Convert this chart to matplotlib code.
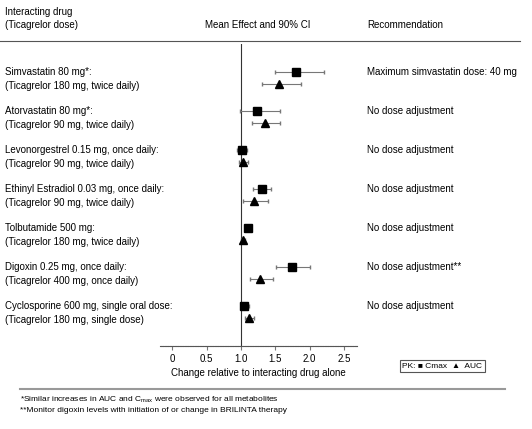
import matplotlib.pyplot as plt
import numpy as np

plt.rcParams['font.family'] = ['Liberation Sans', 'DejaVu Sans']

drugs = ['Simvastatin 80 mg*:', 'Atorvastatin 80 mg*:', 'Levonorgestrel 0.15 mg, once daily:',
         'Ethinyl Estradiol 0.03 mg, once daily:', 'Tolbutamide 500 mg:',
         'Digoxin 0.25 mg, once daily:', 'Cyclosporine 600 mg, single oral dose:']
doses = ['(Ticagrelor 180 mg, twice daily)', '(Ticagrelor 90 mg, twice daily)',
         '(Ticagrelor 90 mg, twice daily)', '(Ticagrelor 90 mg, twice daily)',
         '(Ticagrelor 180 mg, twice daily)', '(Ticagrelor 400 mg, once daily)',
         '(Ticagrelor 180 mg, single dose)']
recs = ['Maximum simvastatin dose: 40 mg', 'No dose adjustment', 'No dose adjustment',
        'No dose adjustment', 'No dose adjustment', 'No dose adjustment**', 'No dose adjustment']
cmax = [1.80, 1.23, 1.01, 1.31, 1.10, 1.74, 1.05]
cmax_lo = [1.49, 0.98, 0.94, 1.18, 1.07, 1.51, 1.00]
cmax_hi = [2.21, 1.57, 1.09, 1.44, 1.13, 2.01, 1.12]
auc = [1.55, 1.35, 1.03, 1.19, 1.03, 1.28, 1.12]
auc_lo = [1.30, 1.16, 0.97, 1.03, 1.00, 1.13, 1.06]
auc_hi = [1.87, 1.57, 1.10, 1.40, 1.06, 1.46, 1.19]
xticks = [0, 0.5, 1.0, 1.5, 2.0, 2.5]
xticklabels = ['0', '0.5', '1.0', '1.5', '2.0', '2.5']

W, H = 532, 429
fig = plt.figure(figsize=(W / 100, H / 100), dpi=100)

# plot area in pixel coords: x 160..357, y 44..346
ax = fig.add_axes([160 / W, 1 - 346 / H, 197 / W, 302 / H])
ax.set_xlim(-0.18, 2.69)
ax.set_ylim(6.87, -0.87)
for s in ['top', 'right', 'left']:
    ax.spines[s].set_visible(False)
ax.spines['bottom'].set_color('#555555')
ax.spines['bottom'].set_linestyle((0, (1, 0.5)))
ax.set_yticks([])
ax.set_xticks(xticks)
ax.set_xticklabels(xticklabels, fontsize=7)
ax.tick_params(axis='x', length=3, color='#777777', pad=3)
ax.set_xlabel('Change relative to interacting drug alone', fontsize=7, labelpad=3)
ax.axvline(1.0, color='#333333', lw=0.8)

y = np.arange(len(drugs))
c = np.array(cmax); a = np.array(auc)
ax.errorbar(c, y - 0.15, xerr=[c - np.array(cmax_lo), np.array(cmax_hi) - c], fmt='s',
            color='black', ms=5.5, ecolor='#777777', elinewidth=0.8, capsize=1.5, ls='none')
ax.errorbar(a, y + 0.15, xerr=[a - np.array(auc_lo), np.array(auc_hi) - a], fmt='^',
            color='black', ms=5.5, ecolor='#777777', elinewidth=0.8, capsize=1.5, ls='none')

def ft(x, yp, s, size=7, **kw):
    fig.text(x / W, 1 - yp / H, s, fontsize=size, va='center', **kw)

ft(5, 12, 'Interacting drug')
ft(5, 25, '(Ticagrelor dose)')
ft(258, 25, 'Mean Effect and 90% CI', ha='center')
ft(367, 25, 'Recommendation')
fig.add_artist(plt.Line2D([0, 520 / W], [1 - 41 / H] * 2, color='#555555', lw=0.8))
for i in range(len(drugs)):
    yc = 78 + 39 * i
    ft(5, yc - 6, drugs[i])
    ft(5, yc + 8, doses[i])
    ft(367, yc - 6, recs[i])

# legend box
fig.text(442 / W, 1 - 366 / H, 'PK: \u25A0 Cmax  \u25B2  AUC', fontsize=6, ha='center', va='center',
         bbox=dict(boxstyle='square,pad=0.3', fc='white', ec='#555555', lw=0.8))
fig.add_artist(plt.Line2D([20 / W, 505 / W], [1 - 389 / H] * 2, color='#999999', lw=1.5))
ft(20, 400, '*Similar increases in AUC and C$_{\\mathregular{max}}$ were observed for all metabolites', size=6)
ft(20, 411, '**Monitor digoxin levels with initiation of or change in BRILINTA therapy', size=6)

fig.savefig('out.png', dpi=100)
